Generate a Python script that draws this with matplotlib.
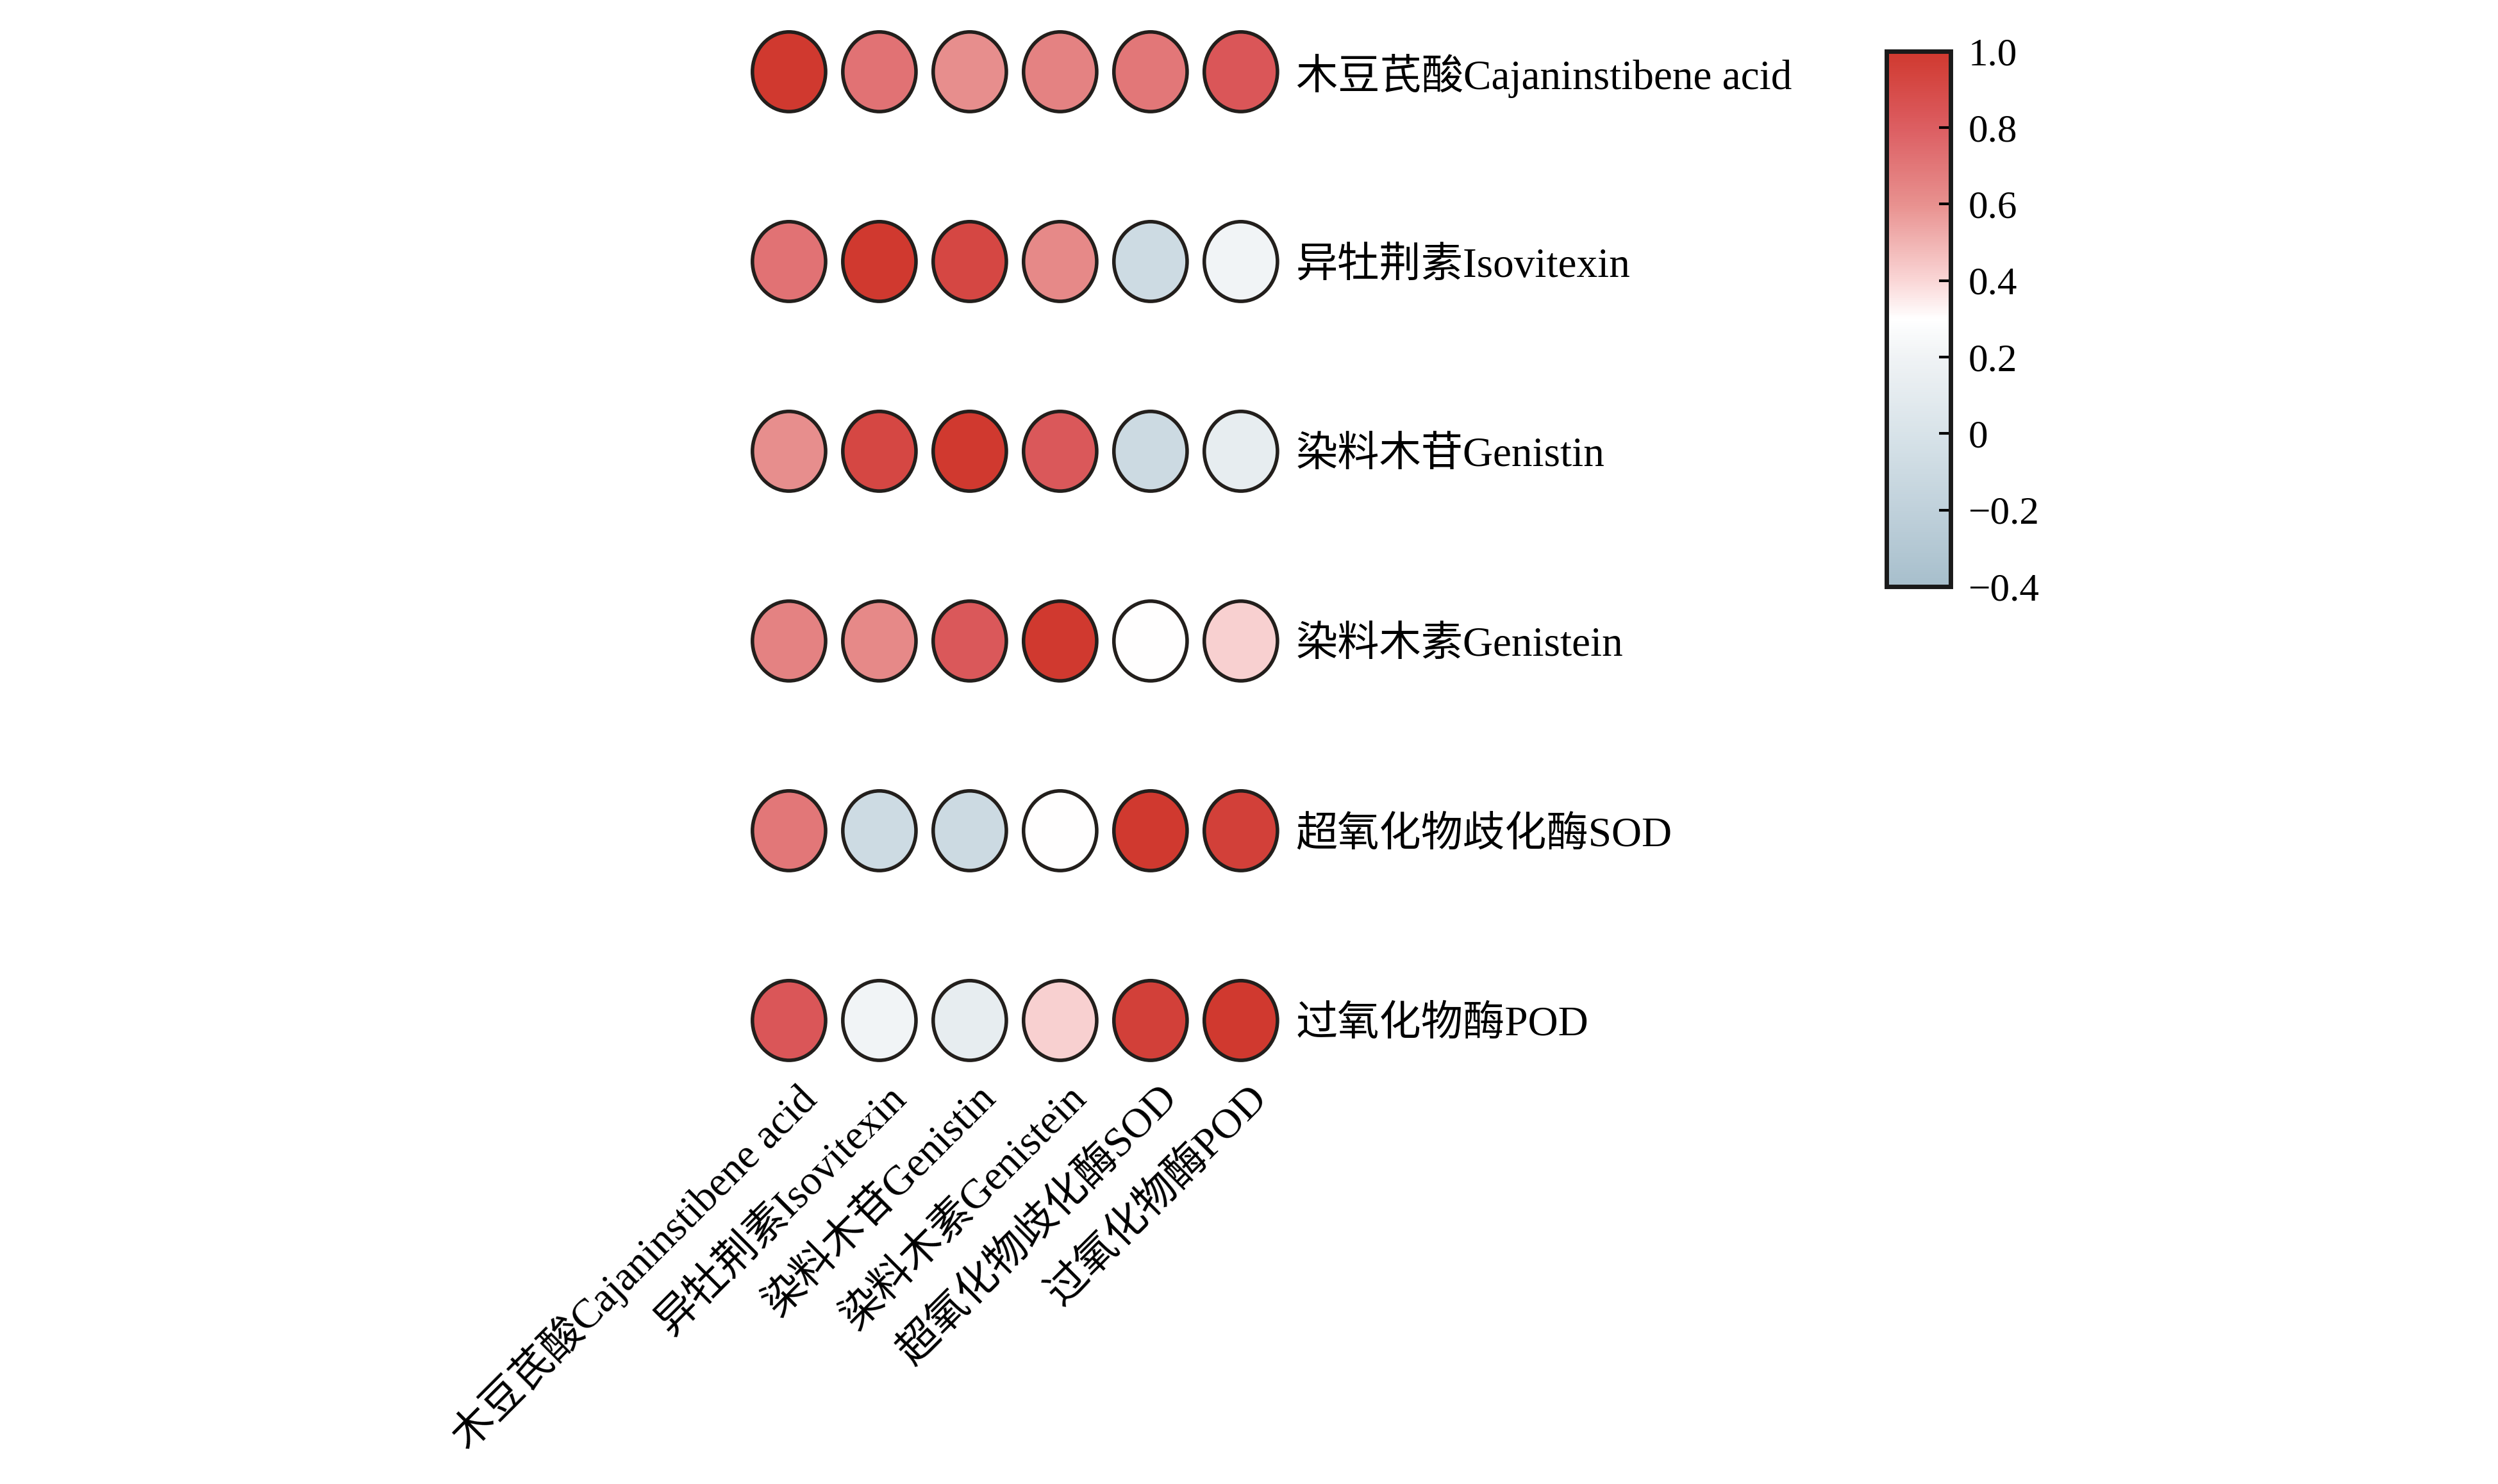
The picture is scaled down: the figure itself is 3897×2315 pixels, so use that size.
import matplotlib
matplotlib.use("Agg")
import matplotlib.pyplot as plt
import matplotlib.patches as patches
import matplotlib.transforms as mtransforms
from matplotlib.colors import LinearSegmentedColormap, Normalize
from matplotlib.cm import ScalarMappable

plt.rcParams["font.family"] = ["Liberation Serif", "Noto Sans CJK SC"]

labels = [
    "木豆芪酸Cajaninstibene acid",
    "异牡荆素Isovitexin",
    "染料木苷Genistin",
    "染料木素Genistein",
    "超氧化物歧化酶SOD",
    "过氧化物酶POD",
]

# correlation matrix, rows top to bottom, columns left to right
corr = [
    [1.00, 0.72, 0.61, 0.66, 0.70, 0.84],
    [0.72, 1.00, 0.92, 0.63, -0.09, 0.21],
    [0.61, 0.92, 1.00, 0.83, -0.10, 0.12],
    [0.66, 0.63, 0.83, 1.00, 0.30, 0.42],
    [0.70, -0.09, -0.10, 0.30, 1.00, 0.96],
    [0.84, 0.21, 0.12, 0.42, 0.96, 1.00],
]

cbar_ticks = [-0.4, -0.2, 0.0, 0.2, 0.4, 0.6, 0.8, 1.0]
cbar_ticklabels = ["\u22120.4", "\u22120.2", "0", "0.2", "0.4", "0.6", "0.8", "1.0"]

vmin, vmax = -0.4, 1.0
anchors = [
    (-0.4, "#a7bfcc"),
    (-0.2, "#c0d1db"),
    (0.0, "#d8e3e9"),
    (0.2, "#f0f3f5"),
    (0.3, "#ffffff"),
    (0.4, "#fad6d6"),
    (0.6, "#e8918f"),
    (0.8, "#dc5e62"),
    (1.0, "#d0392f"),
]
cmap = LinearSegmentedColormap.from_list(
    "corr", [((v - vmin) / (vmax - vmin), c) for v, c in anchors]
)
norm = Normalize(vmin, vmax)

fig = plt.figure(figsize=(38.98, 23.15), dpi=100)
ax = fig.add_axes([0.2977, 0.2676, 0.2170, 0.7288])

n = len(labels)
for i in range(n):
    for j in range(n):
        ell = patches.Ellipse(
            (j, i),
            width=0.81,
            height=0.42,
            facecolor=cmap(norm(corr[i][j])),
            edgecolor="#231f1c",
            linewidth=4,
        )
        ax.add_patch(ell)

ax.set_xlim(-0.5, n - 0.5)
ax.set_ylim(n - 1 + 0.35, -0.35)
for s in ax.spines.values():
    s.set_visible(False)

ax.yaxis.tick_right()
ax.set_yticks(range(n))
ax.set_yticklabels(labels, fontsize=47)
ax.tick_params(axis="y", length=0, pad=11)

ax.set_xticks(range(n))
ax.set_xticklabels(labels, fontsize=47, rotation=45, ha="right", va="center",
                   rotation_mode="anchor")
ax.tick_params(axis="x", length=0, pad=6)
offset = mtransforms.ScaledTranslation(0.32, 0, fig.dpi_scale_trans)
for lab in ax.get_xticklabels():
    lab.set_transform(lab.get_transform() + offset)

cax = fig.add_axes([0.755, 0.6048, 0.0257, 0.3607])
cb = fig.colorbar(ScalarMappable(norm=norm, cmap=cmap), cax=cax)
cb.set_ticks(cbar_ticks)
cb.set_ticklabels(cbar_ticklabels)
cb.outline.set_linewidth(5)
cb.outline.set_edgecolor("#1a1a1a")
cax.tick_params(direction="in", length=13, width=3, labelsize=44, pad=20)

fig.savefig("out.png", dpi=100)
